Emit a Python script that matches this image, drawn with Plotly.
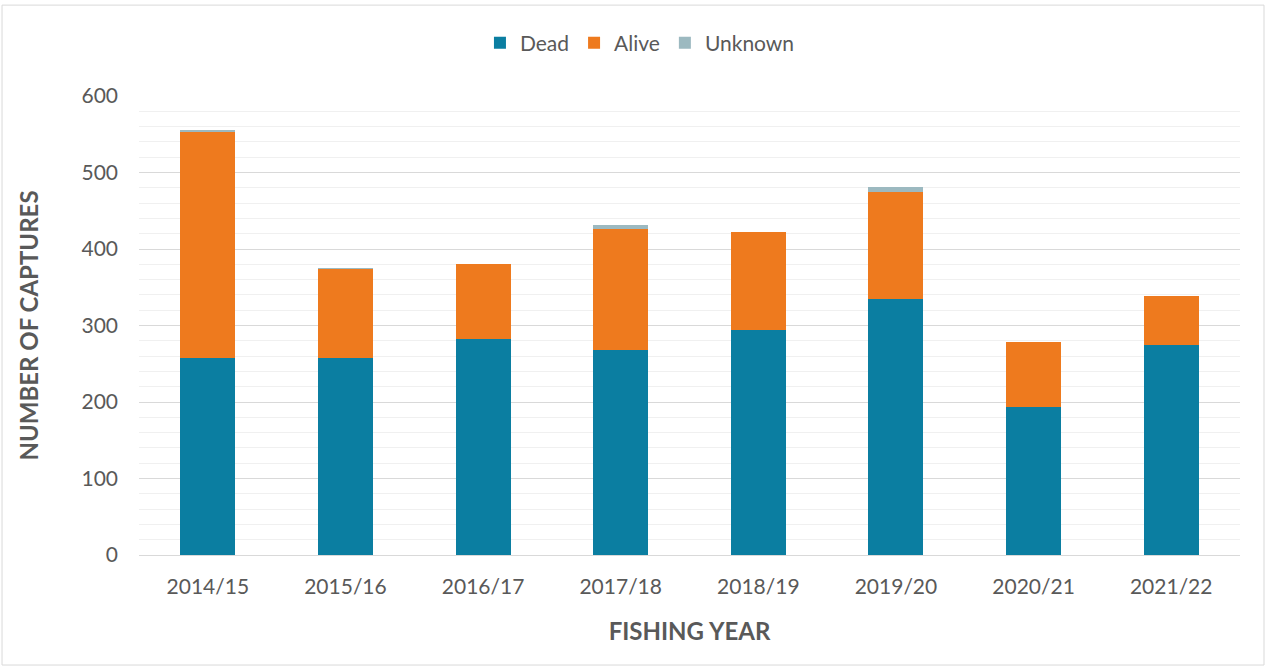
import plotly.graph_objects as go

years = ["2014/15", "2015/16", "2016/17", "2017/18", "2018/19", "2019/20", "2020/21", "2021/22"]
dead = [257, 258, 282, 268, 294, 334, 193, 274]
alive = [297, 116, 99, 158, 128, 141, 85, 65]
unknown = [1, 1, 0, 5, 0, 6, 0, 0]

COL_DEAD = "#0B7EA1"
COL_ALIVE = "#EE7A1E"
COL_UNKNOWN = "#9CB9C0"
TEXT = "#595959"
FONT = "Lato, 'Open Sans', sans-serif"

fig = go.Figure()
for name, vals, col in [("Dead", dead, COL_DEAD), ("Alive", alive, COL_ALIVE), ("Unknown", unknown, COL_UNKNOWN)]:
    fig.add_trace(go.Bar(
        x=years, y=vals, name=name,
        marker=dict(color=col, line=dict(width=0)),
    ))

fig.update_layout(
    width=1266, height=670,
    barmode="stack", bargap=0.6,
    paper_bgcolor="white", plot_bgcolor="white",
    margin=dict(l=139, r=26, t=96, b=115),
    font=dict(family=FONT, color=TEXT, size=21),
    legend=dict(
        orientation="h", x=0.455, xanchor="center", y=1.115, yanchor="middle",
        traceorder="normal", font=dict(size=21, color=TEXT),
        itemwidth=30,
    ),
    xaxis=dict(
        title=dict(text="<b>FISHING YEAR</b>", font=dict(size=24, color=TEXT), standoff=25),
        showline=True, linecolor="#D9D9D9", linewidth=1,
        ticks="", tickfont=dict(size=21, color=TEXT), ticklabelstandoff=13,
    ),
    yaxis=dict(
        title=dict(text="<b>NUMBER OF CAPTURES</b>", font=dict(size=24, color=TEXT), standoff=36),
        range=[0, 600], dtick=100,
        showgrid=True, gridcolor="#D9D9D9", gridwidth=1,
        minor=dict(dtick=20, showgrid=True, gridcolor="#F0F0F0", gridwidth=1),
        zeroline=False, showline=False,
        tickfont=dict(size=21, color=TEXT), ticklabelstandoff=20,
    ),
    shapes=[dict(
        type="rect", xref="paper", yref="paper",
        x0=-0.1244, x1=1.0218, y0=-0.2397, y1=1.198,
        line=dict(color="#D9D9D9", width=1), fillcolor="rgba(0,0,0,0)", layer="below",
    )],
)

fig.write_html("out.html")
